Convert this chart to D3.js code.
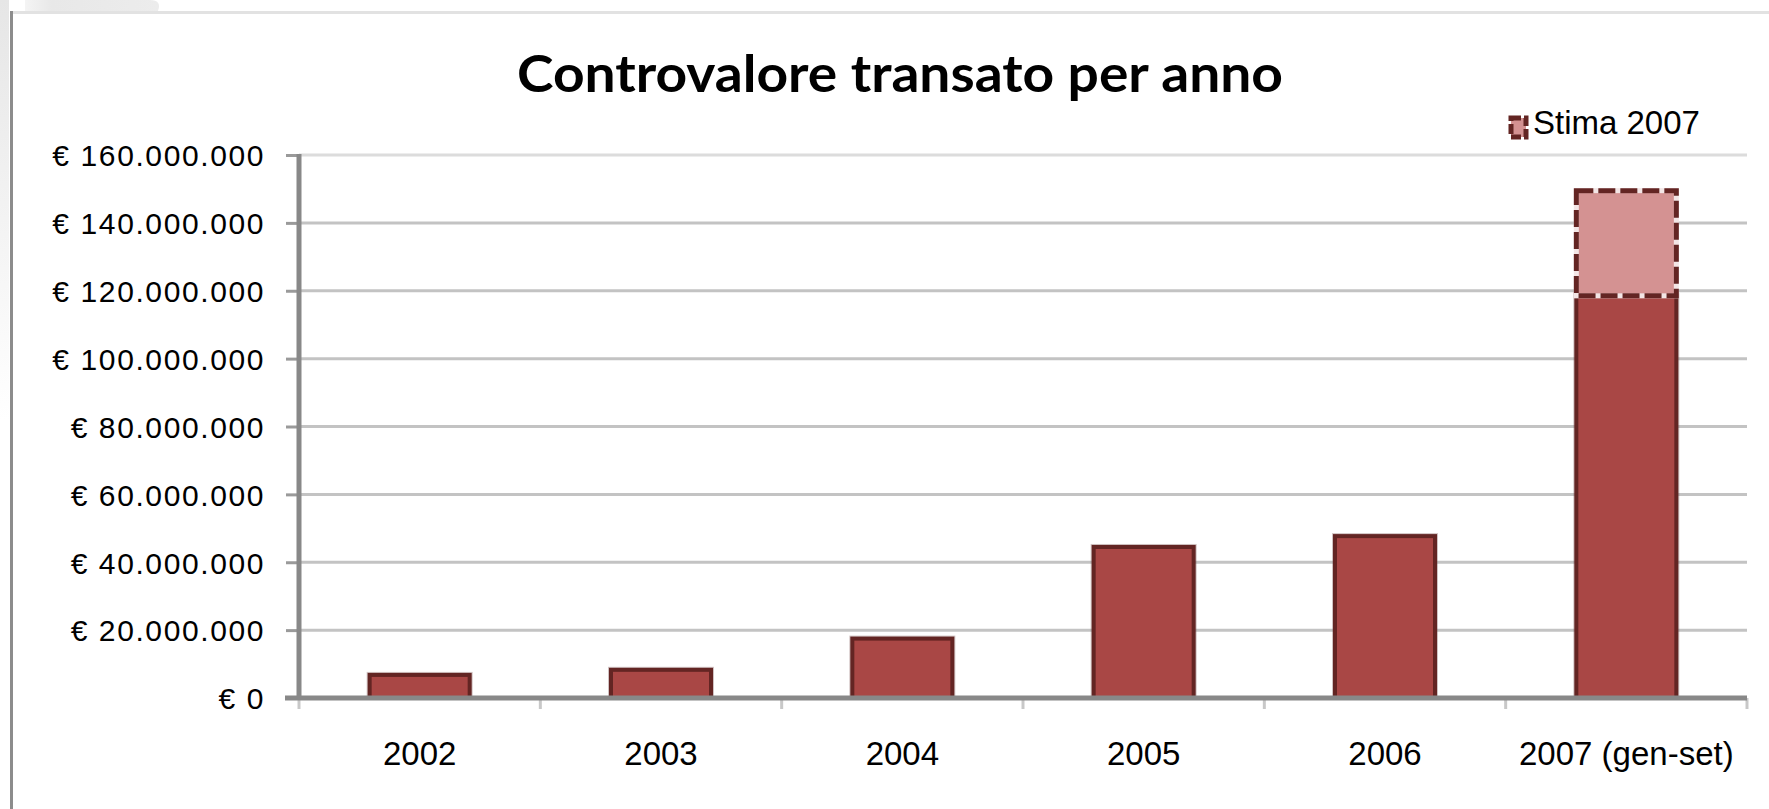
<!DOCTYPE html>
<html>
<head>
<meta charset="utf-8">
<script src="https://cdn.jsdelivr.net/npm/d3@7"></script>
<style>
  html, body { margin: 0; padding: 0; background: #ffffff; }
  svg { display: block; }
</style>
</head>
<body>
<svg id="chart" width="1769" height="809"></svg>
<script>
// ---- data ----
const chartTitle = "Controvalore transato per anno";
const categories = ["2002", "2003", "2004", "2005", "2006", "2007 (gen-set)"];
const actualValues = [6.8e6, 8.3e6, 17.5e6, 44.5e6, 47.7e6, 118.5e6];
const estimateValues = [0, 0, 0, 0, 0, 31e6];
const estimateLabel = "Stima 2007";
const yTickValues = [0, 20e6, 40e6, 60e6, 80e6, 100e6, 120e6, 140e6, 160e6];
const yTickLabels = ["€ 0", "€ 20.000.000", "€ 40.000.000", "€ 60.000.000", "€ 80.000.000",
                     "€ 100.000.000", "€ 120.000.000", "€ 140.000.000", "€ 160.000.000"];

// ---- layout ----
const W = 1769, H = 809;
const plot = { left: 299, right: 1747, top: 155, bottom: 698 };
const barFill = "#A94745", barStroke = "#632523";
const estFill = "#D49292";

const svg = d3.select("#chart");

// background decorations (frame)
const defs = svg.append("defs");
const lg = defs.append("linearGradient").attr("id", "leftFade").attr("x1", 0).attr("y1", 0).attr("x2", 0).attr("y2", 1);
lg.append("stop").attr("offset", "0").attr("stop-color", "#e6e6e6");
lg.append("stop").attr("offset", "1").attr("stop-color", "#ffffff");
const tg = defs.append("linearGradient").attr("id", "topFade").attr("x1", 0).attr("y1", 0).attr("x2", 1).attr("y2", 0);
tg.append("stop").attr("offset", "0").attr("stop-color", "#f4f4f4");
tg.append("stop").attr("offset", "0.2").attr("stop-color", "#e8e8e8");
tg.append("stop").attr("offset", "1").attr("stop-color", "#ececec");

svg.append("rect").attr("x", 0).attr("y", 0).attr("width", 9).attr("height", 420).attr("fill", "url(#leftFade)");
svg.append("path").attr("d", "M25,0 L150,0 Q162,0 158,11 L25,11 Z").attr("fill", "url(#topFade)");
svg.append("line").attr("x1", 10).attr("x2", W).attr("y1", 12.5).attr("y2", 12.5)
  .attr("stroke", "#e2e2e2").attr("stroke-width", 3);
svg.append("line").attr("x1", 11.5).attr("x2", 11.5).attr("y1", 11).attr("y2", H)
  .attr("stroke", "#8c8c8c").attr("stroke-width", 3);

// ---- scales ----
const y = d3.scaleLinear().domain([0, 160e6]).range([plot.bottom, plot.top]);
const pad = 1 - 100 / ((plot.right - plot.left) / categories.length);
const x = d3.scaleBand().domain(categories).range([plot.left, plot.right])
  .paddingInner(pad).paddingOuter(pad / 2);

// ---- gridlines ----
svg.append("g").selectAll("line").data(yTickValues.filter(v => v > 0)).join("line")
  .attr("x1", plot.left).attr("x2", plot.right)
  .attr("y1", d => y(d)).attr("y2", d => y(d))
  .attr("stroke", d => d === 160e6 ? "#dcdcdc" : "#c3c3c3")
  .attr("stroke-width", 3);

// ---- y axis ----
const yAxis = d3.axisLeft(y).tickValues(yTickValues)
  .tickFormat((d, i) => yTickLabels[i]).tickSize(13).tickPadding(21);
const gy = svg.append("g").attr("transform", `translate(${plot.left},0)`).call(yAxis);
gy.select(".domain").remove();
gy.selectAll(".tick line").attr("stroke", "#9a9a9a").attr("stroke-width", 3);
gy.selectAll(".tick text")
  .attr("font-family", "'Liberation Sans', Arial, sans-serif")
  .attr("font-size", 30).attr("letter-spacing", "1.6px")
  .attr("fill", "#000").attr("dy", "0.36em");

// ---- bars ----
const barData = categories.map((c, i) => ({ cat: c, actual: actualValues[i], est: estimateValues[i] }));

// soft shadow halo
svg.append("g").selectAll("rect").data(barData).join("rect")
  .attr("x", d => x(d.cat) - 3)
  .attr("y", d => y(d.actual) - 3)
  .attr("width", x.bandwidth() + 6)
  .attr("height", d => y(0) - y(d.actual) + 3)
  .attr("fill", "rgba(120,80,80,0.35)");

svg.append("g").selectAll("rect").data(barData).join("rect")
  .attr("x", d => x(d.cat))
  .attr("y", d => y(d.actual))
  .attr("width", x.bandwidth())
  .attr("height", d => y(0) - y(d.actual))
  .attr("fill", barFill)
  .attr("stroke", barStroke)
  .attr("stroke-width", 4);

// estimate part
const estG = svg.append("g");
const estData = barData.filter(d => d.est > 0);
estG.selectAll("rect.fill").data(estData).join("rect").attr("class", "fill")
  .attr("x", d => x(d.cat))
  .attr("y", d => y(d.actual + d.est))
  .attr("width", x.bandwidth())
  .attr("height", d => y(d.actual) - y(d.actual + d.est))
  .attr("fill", estFill)
  .attr("stroke", "#f3e6e6")
  .attr("stroke-width", 5);
estG.selectAll("rect.dash").data(estData).join("rect").attr("class", "dash")
  .attr("x", d => x(d.cat))
  .attr("y", d => y(d.actual + d.est))
  .attr("width", x.bandwidth())
  .attr("height", d => y(d.actual) - y(d.actual + d.est))
  .attr("fill", "none")
  .attr("stroke", barStroke)
  .attr("stroke-width", 5)
  .attr("stroke-dasharray", "17,5");

// ---- x axis ----
const xAxis = d3.axisBottom(x).tickSize(0).tickPadding(44);
const gx = svg.append("g").attr("transform", `translate(0,${plot.bottom})`).call(xAxis);
gx.select(".domain").remove();
gx.selectAll(".tick text")
  .attr("font-family", "'Liberation Sans', Arial, sans-serif")
  .attr("font-size", 33).attr("fill", "#000");
// boundary ticks between categories
const step = x.step();
const boundaries = d3.range(categories.length + 1).map(i => plot.left + i * step);
svg.append("g").selectAll("line").data(boundaries).join("line")
  .attr("x1", d => d).attr("x2", d => d)
  .attr("y1", plot.bottom).attr("y2", plot.bottom + 11)
  .attr("stroke", "#c8c8c8").attr("stroke-width", 3);
// axis lines
svg.append("line").attr("x1", plot.left - 14).attr("x2", plot.right)
  .attr("y1", plot.bottom).attr("y2", plot.bottom)
  .attr("stroke", "#888888").attr("stroke-width", 5);
svg.append("line").attr("x1", plot.left).attr("x2", plot.left)
  .attr("y1", plot.top - 1).attr("y2", plot.bottom + 2)
  .attr("stroke", "#888888").attr("stroke-width", 5);

// ---- title ----
svg.append("text")
  .attr("x", 900).attr("y", 92)
  .attr("text-anchor", "middle")
  .attr("font-family", "Lato, 'Open Sans', sans-serif")
  .attr("font-weight", "bold")
  .attr("font-size", 51)
  .attr("textLength", 766)
  .attr("lengthAdjust", "spacingAndGlyphs")
  .attr("fill", "#000")
  .text(chartTitle);

// ---- legend ----
const lgd = svg.append("g");
lgd.append("rect").attr("x", 1511).attr("y", 118).attr("width", 15).attr("height", 19)
  .attr("fill", estFill).attr("stroke", barStroke).attr("stroke-width", 5)
  .attr("stroke-dasharray", "10,3");
lgd.append("text").attr("x", 1533).attr("y", 134)
  .attr("font-family", "'Liberation Sans', Arial, sans-serif")
  .attr("font-size", 33).attr("fill", "#000")
  .text(estimateLabel);
</script>
</body>
</html>
